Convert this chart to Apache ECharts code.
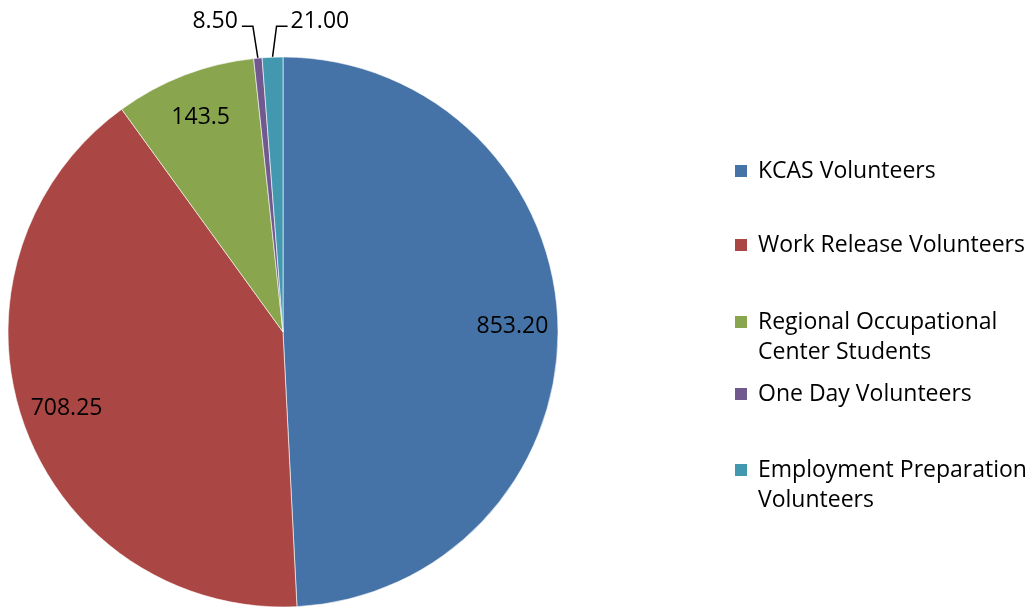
<!DOCTYPE html>
<html>
<head>
<meta charset="utf-8">
<script src="https://cdn.jsdelivr.net/npm/echarts@6/dist/echarts.min.js"></script>
<style>
    html, body { margin: 0; padding: 0; background: #fff; }
    #chart1 { width: 1036px; height: 616px; }
</style>
</head>
<body>
<div id="chart1"></div>
<script>
// 数据
var names = ['KCAS Volunteers', 'Work Release Volunteers', 'Regional Occupational Center Students', 'One Day Volunteers', 'Employment Preparation Volunteers'];
// 两行的图例前面加一个空行，这样色块对齐第一行
var legendText = ['KCAS Volunteers', 'Work Release Volunteers', '\nRegional Occupational\nCenter Students', 'One Day Volunteers', '\nEmployment Preparation\nVolunteers'];
var values = [853.2, 708.25, 143.5, 8.5, 21];
var valueLabels = ['853.20', '708.25', '143.5', '8.50', '21.00'];
var colors = ['#4572A7', '#AA4643', '#89A54E', '#71588F', '#4198AF'];

var font = '"Open Sans", sans-serif';
var center = [283, 332];
var radius = 275;

var mychart = echarts.init(document.getElementById('chart1'));

var legendTops = [156, 230, 277, 379, 425];
var legends = [];
for (var i = 0; i < names.length; i++) {
    legends.push({
        orient: 'vertical',
        left: 733,
        top: legendTops[i],
        padding: 0,
        itemWidth: 14,
        itemHeight: 14,
        icon: 'rect',
        selectedMode: false,
        formatter: function (n) { return legendText[names.indexOf(n)]; },
        data: [{ name: names[i], itemStyle: { color: colors[i] } }],
        textStyle: { fontFamily: font, fontSize: 23, lineHeight: 30, color: '#000', padding: [0, 0, 0, 5] }
    });
}

var mainData = [], labelData = [];
for (var j = 0; j < names.length; j++) {
    var small = j >= 3;
    mainData.push({
        name: names[j],
        value: values[j],
        label: { show: small },
        labelLine: { show: small }
    });
    labelData.push({
        name: names[j],
        value: values[j],
        label: { show: !small }
    });
}

var option = {
    animation: false,
    color: colors,
    legend: legends,
    series: [{
        name: 'main',
        type: 'pie',
        center: center,
        radius: [0, radius],
        startAngle: 90,
        clockwise: true,
        itemStyle: { borderColor: '#fff', borderWidth: 0.6 },
        emphasis: { disabled: true },
        label: {
            position: 'outside',
            fontFamily: font,
            fontSize: 23,
            color: '#000',
            formatter: function (p) { return valueLabels[p.dataIndex]; }
        },
        labelLine: { length: 20, length2: 10, lineStyle: { color: '#000', width: 1.5 } },
        labelLayout: function (p) {
            if (p.dataIndex < 3 || !p.labelLinePoints) return {};
            var p0 = p.labelLinePoints[0];
            if (p.dataIndex === 3) {
                return {
                    x: p0[0] - 20, y: p0[1] - 37, align: 'right', verticalAlign: 'middle',
                    labelLinePoints: [p0, [p0[0] - 5, p0[1] - 32], [p0[0] - 16, p0[1] - 32]]
                };
            }
            return {
                x: p0[0] + 18, y: p0[1] - 36, align: 'left', verticalAlign: 'middle',
                labelLinePoints: [p0, [p0[0] + 4, p0[1] - 31], [p0[0] + 15, p0[1] - 31]]
            };
        },
        data: mainData
    }, {
        // 只用来放扇区里面的数值标签
        name: 'labels',
        type: 'pie',
        center: center,
        radius: [178, radius],
        startAngle: 90,
        clockwise: true,
        silent: true,
        itemStyle: { color: 'rgba(0,0,0,0)' },
        emphasis: { disabled: true },
        label: {
            position: 'inside',
            fontFamily: font,
            fontSize: 23,
            color: '#000',
            formatter: function (p) { return valueLabels[p.dataIndex]; }
        },
        labelLine: { show: false },
        data: labelData
    }]
};

mychart.setOption(option);
</script>
</body>
</html>
